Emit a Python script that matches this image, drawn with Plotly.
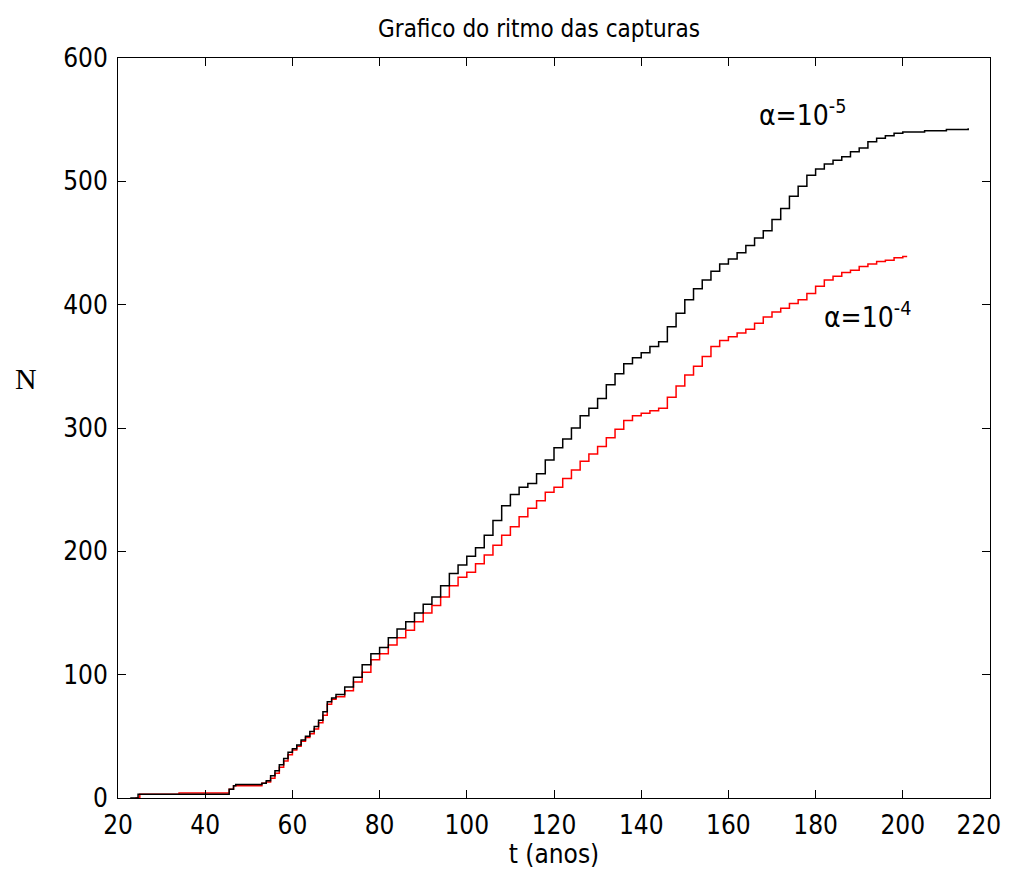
import plotly.graph_objects as go

# alpha = 1e-5 (black)
t_black = [22.8, 24.6, 44, 45.5, 46.5, 47, 53, 54, 55, 56, 57, 58, 59, 60, 61, 62, 63, 64, 65, 66, 67, 68, 69, 70,
           72, 74, 76, 78, 80, 82, 84, 86, 88, 90, 92, 94, 96, 98, 100, 102, 104, 106, 108, 110, 112, 114, 116,
           118, 120, 122, 124, 126, 128, 130, 132, 134, 136, 138, 140, 142, 144, 146, 148, 150, 152, 154, 156,
           158, 160, 162, 164, 166, 168, 170, 172, 174, 176, 178, 180, 182, 184, 186, 188, 190, 192, 194, 196,
           198, 200, 205, 210, 215]
n_black = [0, 3, 3, 7, 10, 11, 12, 14, 18, 22, 27, 32, 37, 40, 43, 47, 50, 54, 58, 63, 70, 78, 81, 84,
           90, 98, 108, 117, 122, 130, 137, 143, 150, 157, 163, 172, 182, 189, 196, 203, 213, 225, 237, 246, 252, 255, 263,
           274, 284, 291, 300, 310, 316, 324, 335, 344, 352, 357, 361, 366, 370, 382, 393, 404, 413, 420, 427,
           433, 437, 442, 448, 454, 460, 469, 478, 488, 496, 505, 510, 514, 517, 520, 524, 527, 532, 535, 537,
           539, 540, 541, 542, 543]

# alpha = 1e-4 (red)
t_red = [24, 25, 34, 42, 45.5, 46.5, 53, 54, 55, 56, 57, 58, 59, 60, 61, 62, 63, 64, 65, 66, 67, 68, 69, 70,
         72, 74, 76, 78, 80, 82, 84, 86, 88, 90, 92, 94, 96, 98, 100, 102, 104, 106, 108, 110, 112, 114, 116,
         118, 120, 122, 124, 126, 128, 130, 132, 134, 136, 138, 140, 142, 144, 146, 148, 150, 152, 154, 156,
         158, 160, 162, 164, 166, 168, 170, 172, 174, 176, 178, 180, 182, 184, 186, 188, 190, 192, 194, 196,
         198, 200, 201]
n_red = [0, 3, 4, 4, 7, 10, 12, 13, 16, 20, 25, 30, 35, 39, 42, 46, 49, 52, 56, 61, 67, 76, 80, 82,
         87, 94, 102, 112, 117, 124, 130, 136, 143, 150, 156, 163, 172, 179, 183, 190, 197, 205, 213, 220, 228, 235, 241,
         248, 252, 259, 266, 273, 279, 285, 292, 299, 306, 310, 312, 314, 316, 325, 334, 343, 350, 358, 366,
         371, 374, 377, 380, 385, 390, 394, 397, 401, 404, 409, 415, 420, 423, 426, 428, 431, 433, 435, 436,
         438, 439, 439]

x_ticks = [20, 40, 60, 80, 100, 120, 140, 160, 180, 200, 220]
x_ticktext = ["20", "40", "60", "80", "100", "120", "140", "160", "180", "200", "220\u00a0\u00a0\u00a0"]
y_ticks = [0, 100, 200, 300, 400, 500, 600]

FONT = "DejaVu Sans Condensed, Liberation Sans Narrow, sans-serif"
W, H = 1002, 861

fig = go.Figure()
fig.add_trace(go.Scatter(x=t_red, y=n_red, mode="lines", line=dict(color="#ff0000", width=1.5, shape="hv"),
                         showlegend=False))
fig.add_trace(go.Scatter(x=t_black, y=n_black, mode="lines", line=dict(color="#000000", width=1.5, shape="hv"),
                         showlegend=False))

fig.add_annotation(x=166.5, y=555, xref="x", yref="y", xanchor="left", yanchor="middle", showarrow=False,
                   text="α=10<sup>-5</sup>", font=dict(family=FONT, size=28, color="black"))
fig.add_annotation(x=181.5, y=391, xref="x", yref="y", xanchor="left", yanchor="middle", showarrow=False,
                   text="α=10<sup>-4</sup>", font=dict(family=FONT, size=28, color="black"))
fig.add_annotation(x=-0.106, y=0.567, xref="paper", yref="paper", xanchor="center", yanchor="middle",
                   showarrow=False, text="N",
                   font=dict(family="Liberation Serif, serif", size=30, color="black"))

fig.update_layout(
    width=W, height=H,
    margin=dict(l=110, r=20, t=50, b=71),
    paper_bgcolor="white", plot_bgcolor="white",
    title=dict(text="Grafico do ritmo das capturas", x=(539 - 8) / W, xanchor="center",
               y=1 - 21 / H, yanchor="middle", xref="container", yref="container",
               font=dict(family=FONT, size=24, color="black")),
    font=dict(family=FONT, size=26, color="black"),
)

fig.update_xaxes(range=[20, 220], tickvals=x_ticks, ticktext=x_ticktext, ticks="inside", ticklen=8,
                 tickcolor="black", showline=True, linecolor="black", linewidth=1, mirror="ticks",
                 showgrid=False, zeroline=False, automargin=False, ticklabelstandoff=4,
                 ticklabeloverflow="allow",
                 title=dict(text="t (anos)", font=dict(family=FONT, size=26), standoff=15))
fig.update_yaxes(range=[0, 600], tickvals=y_ticks, ticks="inside", ticklen=8, tickcolor="black",
                 showline=True, linecolor="black", linewidth=1, mirror="ticks", showgrid=False, zeroline=False,
                 automargin=False, ticklabelstandoff=4)

fig.write_html("out.html")
